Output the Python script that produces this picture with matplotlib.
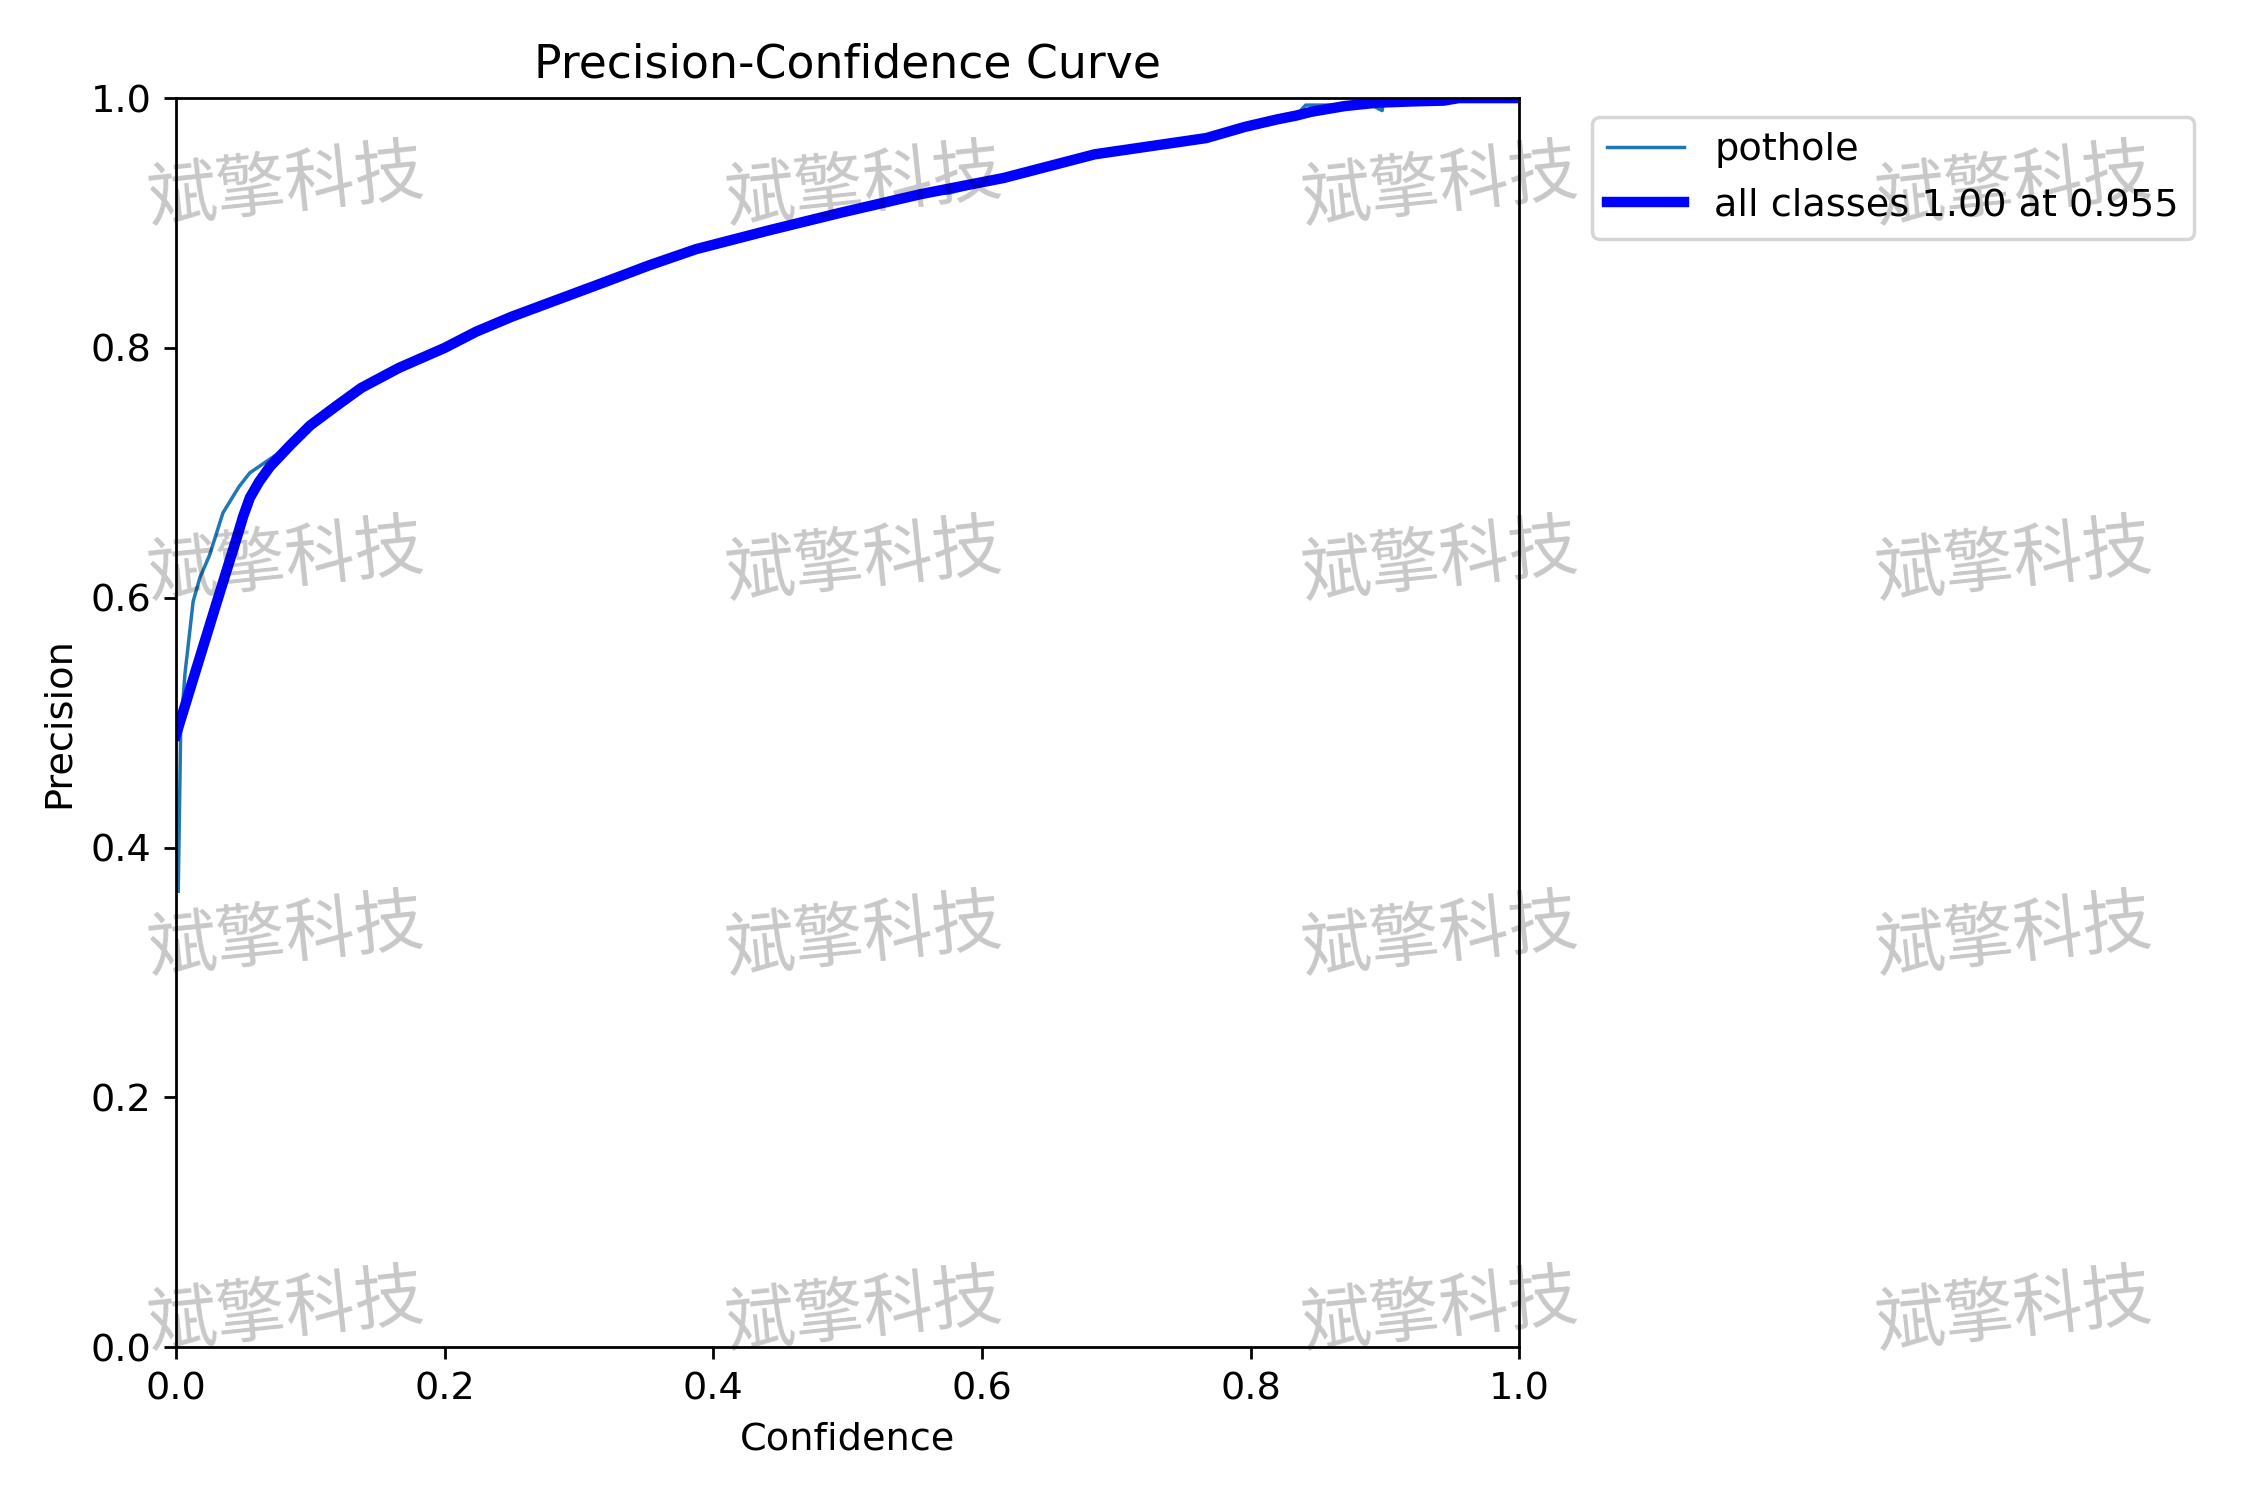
import matplotlib
matplotlib.use("Agg")
import matplotlib.pyplot as plt

# pothole class curve (thin)
pothole_conf = [0.0017, 0.0035, 0.0067, 0.0128, 0.0178, 0.025, 0.035, 0.047, 0.055, 0.070,
                0.085, 0.100, 0.138, 0.166, 0.200, 0.2235, 0.280, 0.352, 0.387, 0.441,
                0.494, 0.554, 0.576, 0.616, 0.684, 0.767, 0.796, 0.820, 0.834, 0.841,
                0.860, 0.870, 0.889, 0.898, 0.899, 1.0]
pothole_prec = [0.365, 0.493, 0.539, 0.597, 0.616, 0.634, 0.668, 0.689, 0.700, 0.711,
                0.722, 0.738, 0.768, 0.784, 0.800, 0.813, 0.837, 0.866, 0.879, 0.894,
                0.908, 0.923, 0.924, 0.936, 0.955, 0.968, 0.977, 0.983, 0.986, 0.9944,
                0.9944, 0.9945, 0.995, 0.990, 1.0, 1.0]

# all classes curve (thick)
all_conf = [0.0, 0.030, 0.045, 0.050, 0.055, 0.062, 0.070, 0.085, 0.100, 0.120, 0.138,
            0.166, 0.200, 0.2235, 0.250, 0.280, 0.320, 0.352, 0.387, 0.441, 0.494, 0.554, 0.616,
            0.684, 0.767, 0.796, 0.820, 0.834, 0.845, 0.870, 0.894, 0.919, 0.944,
            0.955, 1.0]
all_prec = [0.490, 0.595, 0.647, 0.665, 0.680, 0.693, 0.705, 0.722, 0.738, 0.754, 0.768,
            0.784, 0.800, 0.813, 0.825, 0.837, 0.853, 0.866, 0.879, 0.894, 0.908, 0.923, 0.936,
            0.955, 0.968, 0.977, 0.983, 0.986, 0.989, 0.9936, 0.9963, 0.9973, 0.998,
            1.0, 1.0]

class_name = "pothole"
all_label = "all classes 1.00 at 0.955"
watermark = "斌擎科技"
wm_x = [0.127, 0.384, 0.640, 0.895]
wm_y = [0.875, 0.625, 0.375, 0.125]

plt.rcParams["font.size"] = 11
fig = plt.figure(figsize=(9, 6), dpi=250)
ax = fig.add_axes([0.0782, 0.1019, 0.597, 0.8327])

ax.plot(pothole_conf, pothole_prec, linewidth=1, label=class_name)
ax.plot(all_conf, all_prec, linewidth=3, color="blue", label=all_label)
ax.set_xlabel("Confidence", fontsize=11)
ax.set_ylabel("Precision", fontsize=11)
ax.tick_params(labelsize=11)
ax.set_xlim(0, 1)
ax.set_ylim(0, 1)
ax.set_title("Precision-Confidence Curve", fontsize=13.2)
ax.legend(bbox_to_anchor=(1.04, 1), loc="upper left", fontsize=11)

for yy in wm_y:
    for xx in wm_x:
        fig.text(xx, yy, watermark, fontsize=20, family=["Noto Sans CJK SC", "DejaVu Sans"],
                 color="black", alpha=0.22, rotation=6, rotation_mode="anchor",
                 ha="center", va="center", zorder=10)

fig.savefig("out.png", dpi=250)
